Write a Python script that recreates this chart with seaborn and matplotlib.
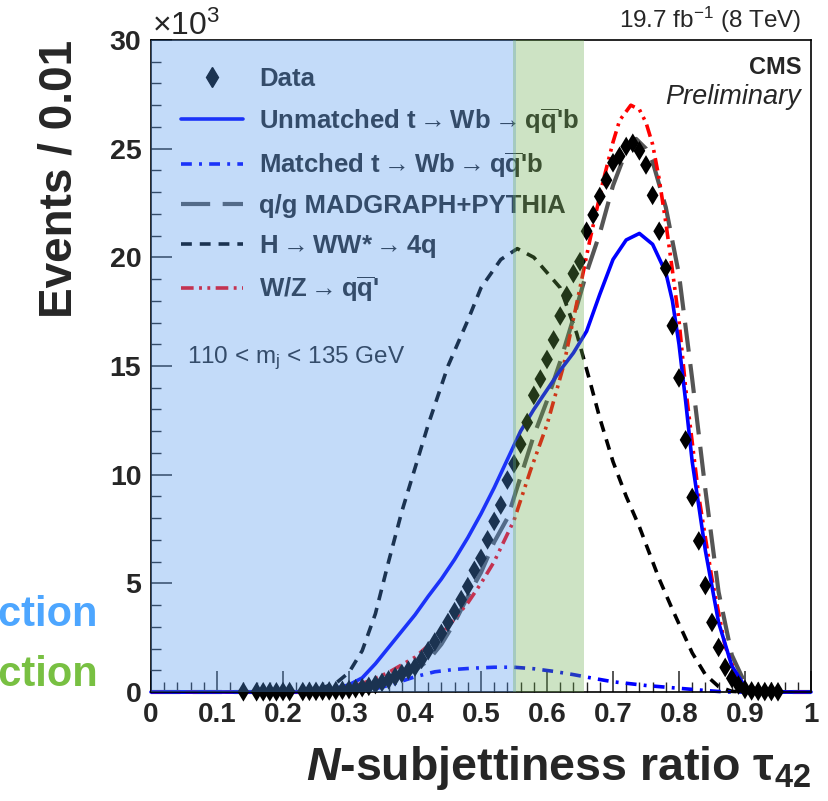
import numpy as np
import pandas as pd
import matplotlib
matplotlib.use("Agg")
import matplotlib.pyplot as plt
import seaborn as sns
from matplotlib.lines import Line2D
from matplotlib.ticker import MultipleLocator, FuncFormatter

# ---------------- data (events in units of 10^3 per 0.01 bin) ----------------
data_x = [0.14, 0.16, 0.17, 0.18, 0.19, 0.20, 0.21, 0.23, 0.24, 0.25, 0.26, 0.27,
          0.28, 0.29, 0.30, 0.31, 0.32, 0.33, 0.34, 0.35, 0.36, 0.37, 0.38, 0.39,
          0.40, 0.41, 0.42, 0.43, 0.44, 0.45, 0.46, 0.47, 0.48, 0.49, 0.50, 0.51,
          0.52, 0.53, 0.54, 0.55, 0.56, 0.57, 0.58, 0.59, 0.60, 0.61, 0.62, 0.63,
          0.64, 0.65, 0.66, 0.67, 0.68, 0.69, 0.70, 0.71, 0.72, 0.73, 0.74, 0.75,
          0.76, 0.77, 0.78, 0.79, 0.80, 0.81, 0.82, 0.83, 0.84, 0.85, 0.86, 0.87,
          0.88, 0.89, 0.90, 0.91, 0.92, 0.93, 0.94, 0.95]
data_y = [0.01, 0.01, 0.01, 0.01, 0.01, 0.02, 0.02, 0.02, 0.03, 0.03, 0.04, 0.05,
          0.06, 0.08, 0.11, 0.15, 0.20, 0.26, 0.34, 0.44, 0.56, 0.70, 0.85, 1.00,
          1.15, 1.50, 1.90, 2.30, 2.70, 3.20, 3.70, 4.25, 4.85, 5.60, 6.15, 7.00,
          7.85, 8.60, 9.75, 10.5, 11.4, 12.4, 13.65, 14.4, 15.3, 16.2, 17.3, 18.25,
          19.25, 19.8, 21.2, 21.95, 22.8, 23.55, 24.35, 24.65, 25.1, 25.25, 24.9, 24.25,
          22.85, 21.2, 19.5, 16.85, 14.45, 11.6, 8.95, 6.95, 4.9, 3.2, 2.05, 1.13,
          0.63, 0.32, 0.12, 0.05, 0.03, 0.02, 0.02, 0.01]

unm_x = [0.0, 0.22, 0.26, 0.28, 0.30, 0.32, 0.34, 0.36, 0.38, 0.40, 0.42, 0.44, 0.46,
         0.48, 0.50, 0.52, 0.54, 0.56, 0.58, 0.60, 0.62, 0.64, 0.66, 0.68, 0.70, 0.72,
         0.74, 0.76, 0.78, 0.79, 0.80, 0.81, 0.82, 0.84, 0.86, 0.88, 0.90, 0.92, 1.0]
unm_y = [0.0, 0.0, 0.08, 0.17, 0.33, 0.65, 1.3, 2.05, 2.8, 3.55, 4.4, 5.2, 6.1,
         7.1, 8.2, 9.4, 10.7, 12.0, 13.0, 13.9, 14.8, 15.6, 16.6, 18.3, 19.9, 20.8,
         21.1, 20.6, 19.3, 18.0, 16.0, 13.4, 10.6, 6.5, 3.2, 1.2, 0.25, 0.0, 0.0]

mat_x = [0.0, 0.30, 0.33, 0.36, 0.38, 0.40, 0.43, 0.46, 0.49, 0.52, 0.55, 0.58,
         0.61, 0.64, 0.67, 0.70, 0.75, 0.80, 0.84, 0.87, 1.0]
mat_y = [0.0, 0.0, 0.08, 0.3, 0.5, 0.7, 0.93, 1.04, 1.1, 1.14, 1.14, 1.07,
         0.95, 0.8, 0.63, 0.47, 0.3, 0.17, 0.07, 0.0, 0.0]

qg_x = [0.0, 0.24, 0.28, 0.30, 0.33, 0.36, 0.38, 0.40, 0.42, 0.44, 0.46, 0.48, 0.50,
        0.52, 0.54, 0.56, 0.58, 0.60, 0.62, 0.64, 0.66, 0.68, 0.70, 0.72, 0.735, 0.75,
        0.76, 0.78, 0.80, 0.82, 0.84, 0.86, 0.88, 0.90, 0.92, 0.94, 1.0]
qg_y = [0.0, 0.0, 0.05, 0.12, 0.3, 0.55, 0.75, 1.0, 1.45, 2.2, 3.2, 4.4, 5.5,
        6.9, 8.0, 9.9, 11.8, 13.4, 15.2, 17.2, 19.3, 21.1, 23.3, 24.9, 25.45, 25.0,
        24.4, 22.3, 19.2, 14.4, 9.3, 4.6, 1.7, 0.4, 0.05, 0.0, 0.0]

hww_x = [0.0, 0.20, 0.25, 0.28, 0.30, 0.32, 0.34, 0.36, 0.38, 0.40, 0.42, 0.45, 0.48,
         0.50, 0.53, 0.555, 0.58, 0.60, 0.62, 0.645, 0.665, 0.68, 0.70, 0.72, 0.74,
         0.77, 0.79, 0.82, 0.84, 0.86, 0.88, 0.90, 1.0]
hww_y = [0.0, 0.0, 0.1, 0.4, 0.9, 1.9, 3.6, 6.0, 8.3, 10.3, 12.3, 15.0, 17.1,
         18.6, 19.9, 20.4, 20.0, 19.3, 18.6, 16.5, 14.3, 12.6, 10.6, 9.0, 7.6,
         5.2, 3.8, 1.8, 0.8, 0.25, 0.03, 0.0, 0.0]

wz_x = [0.0, 0.24, 0.28, 0.30, 0.33, 0.36, 0.40, 0.43, 0.45, 0.48, 0.50, 0.52, 0.55,
        0.575, 0.60, 0.625, 0.65, 0.665, 0.685, 0.70, 0.71, 0.727, 0.74, 0.75, 0.76,
        0.77, 0.78, 0.79, 0.80, 0.81, 0.83, 0.85, 0.87, 0.89, 0.91, 0.93, 1.0]
wz_y = [0.0, 0.0, 0.1, 0.2, 0.5, 0.9, 1.6, 2.4, 3.0, 4.1, 5.0, 6.0, 7.9,
        10.2, 12.3, 15.0, 18.6, 20.8, 23.5, 25.3, 26.3, 27.0, 26.8, 26.2, 25.2,
        23.6, 21.6, 19.4, 17.1, 14.0, 9.0, 5.2, 2.1, 0.5, 0.05, 0.0, 0.0]

ARR = "$\\rightarrow$"
QQB = "q$\\overline{\\mathbf{q}}$'"
legend_labels = ["Data",
                 "Unmatched t" + ARR + "Wb" + ARR + QQB + "b",
                 "Matched t" + ARR + "Wb" + ARR + QQB + "b",
                 "q/g MADGRAPH+PYTHIA",
                 "H" + ARR + "WW*" + ARR + "4q",
                 "W/Z" + ARR + QQB]

# ---------------- style ----------------
sns.set_style("ticks")
plt.rcParams['font.family'] = ['Liberation Sans', 'DejaVu Sans']
plt.rcParams['mathtext.fontset'] = 'custom'
plt.rcParams['mathtext.rm'] = 'Liberation Sans'
plt.rcParams['mathtext.bf'] = 'Liberation Sans:bold'
plt.rcParams['mathtext.it'] = 'Liberation Sans:italic:bold'

fig = plt.figure(figsize=(8.29, 8.01), dpi=100)
ax = fig.add_axes([151/829, 1-692/801, 660/829, 652/801])

styles = {
    "unm": dict(color="#0000ff", lw=2.6, linestyle="-"),
    "mat": dict(color="#0000ff", lw=2.6, linestyle=(0, (3, 2, 0.8, 2))),
    "qg": dict(color="#555555", lw=3.0, linestyle=(0, (7, 3))),
    "hww": dict(color="black", lw=2.6, linestyle=(0, (3, 2.2))),
    "wz": dict(color="#ff0000", lw=2.6, linestyle=(0, (3.5, 1.5, 0.8, 1.5, 0.8, 1.5))),
}

curves = [("hww", hww_x, hww_y), ("mat", mat_x, mat_y), ("qg", qg_x, qg_y),
          ("wz", wz_x, wz_y), ("unm", unm_x, unm_y)]
for key, xs, ys in curves:
    df = pd.DataFrame({"x": xs, "y": ys})
    sns.lineplot(data=df, x="x", y="y", ax=ax, estimator=None, clip_on=False, **styles[key])

ddf = pd.DataFrame({"x": data_x, "y": data_y})
sns.scatterplot(data=ddf, x="x", y="y", ax=ax, marker="d", s=100, color="black",
                edgecolor="none", zorder=6, clip_on=False)

# selection regions (drawn on top, translucent)
ax.axvspan(0.0, 0.553, color=(80/255, 150/255, 240/255), alpha=0.34, lw=0, zorder=10)
ax.axvspan(0.549, 0.656, color=(106/255, 170/255, 76/255), alpha=0.33, lw=0, zorder=10)

ax.set_xlim(0, 1)
ax.set_ylim(0, 30)

ax.xaxis.set_major_locator(MultipleLocator(0.1))
ax.xaxis.set_minor_locator(MultipleLocator(0.02))
ax.yaxis.set_major_locator(MultipleLocator(5))
ax.yaxis.set_minor_locator(MultipleLocator(1))
ax.xaxis.set_major_formatter(FuncFormatter(lambda v, p: "%g" % round(v, 2)))
ax.yaxis.set_major_formatter(FuncFormatter(lambda v, p: "%g" % v))
ax.tick_params(which="major", direction="in", length=15, width=1.1, pad=7,
               top=False, right=False)
ax.tick_params(axis="y", labelsize=20.5)
ax.tick_params(axis="x", labelsize=20)
ax.tick_params(which="minor", direction="in", length=7.5, width=1.0, top=False, right=False)
for lab in ax.get_xticklabels() + ax.get_yticklabels():
    lab.set_fontweight("bold")
for sp in ax.spines.values():
    sp.set_visible(True)
    sp.set_linewidth(1.2)
    sp.set_color("black")

ax.set_ylabel("Events / 0.01", fontsize=33, fontweight="bold", loc="top", labelpad=20)
ax.set_xlabel("$\\it{N}$-subjettiness ratio $\\mathbf{\\tau}_{\\mathbf{42}}$",
              fontsize=33.5, fontweight="bold", loc="right", labelpad=12)

# legend
handles = [
    Line2D([], [], ls="none", marker="d", color="black", markersize=10),
    Line2D([], [], **styles["unm"]),
    Line2D([], [], **styles["mat"]),
    Line2D([], [], **styles["qg"]),
    Line2D([], [], **styles["hww"]),
    Line2D([], [], **styles["wz"]),
]
leg = ax.legend(handles, legend_labels, loc="upper left", bbox_to_anchor=(0.046, 0.958),
                frameon=False, borderaxespad=0, borderpad=0, handlelength=2.4,
                handletextpad=0.62, labelspacing=0.56,
                prop={"weight": "bold", "size": 18.5})
leg.set_zorder(5)

ax.text(0.055, 0.512, "110 < m$_\\mathrm{j}$ < 135 GeV", transform=ax.transAxes,
        fontsize=17.5, va="center", ha="left", zorder=4)
ax.text(0.985, 0.958, "CMS", transform=ax.transAxes, fontsize=17, fontweight="bold",
        ha="right", va="center", zorder=4)
ax.text(0.985, 0.912, "Preliminary", transform=ax.transAxes, fontsize=19.5, style="italic",
        ha="right", va="center", zorder=4)
ax.text(0.985, 1.008, "19.7 fb$^{-1}$ (8 TeV)", transform=ax.transAxes, fontsize=17.5,
        ha="right", va="bottom")
ax.text(0.002, 0.997, "\u00d710$^{3}$", transform=ax.transAxes, fontsize=23,
        ha="left", va="bottom")

fig.text(98/829, 1-626/801, "Tight selection", color="#4da6ff", fontsize=30,
         fontweight="bold", ha="right", va="baseline")
fig.text(98/829, 1-686/801, "Loose selection", color="#78c042", fontsize=30,
         fontweight="bold", ha="right", va="baseline")

fig.savefig("out.png", dpi=100)
